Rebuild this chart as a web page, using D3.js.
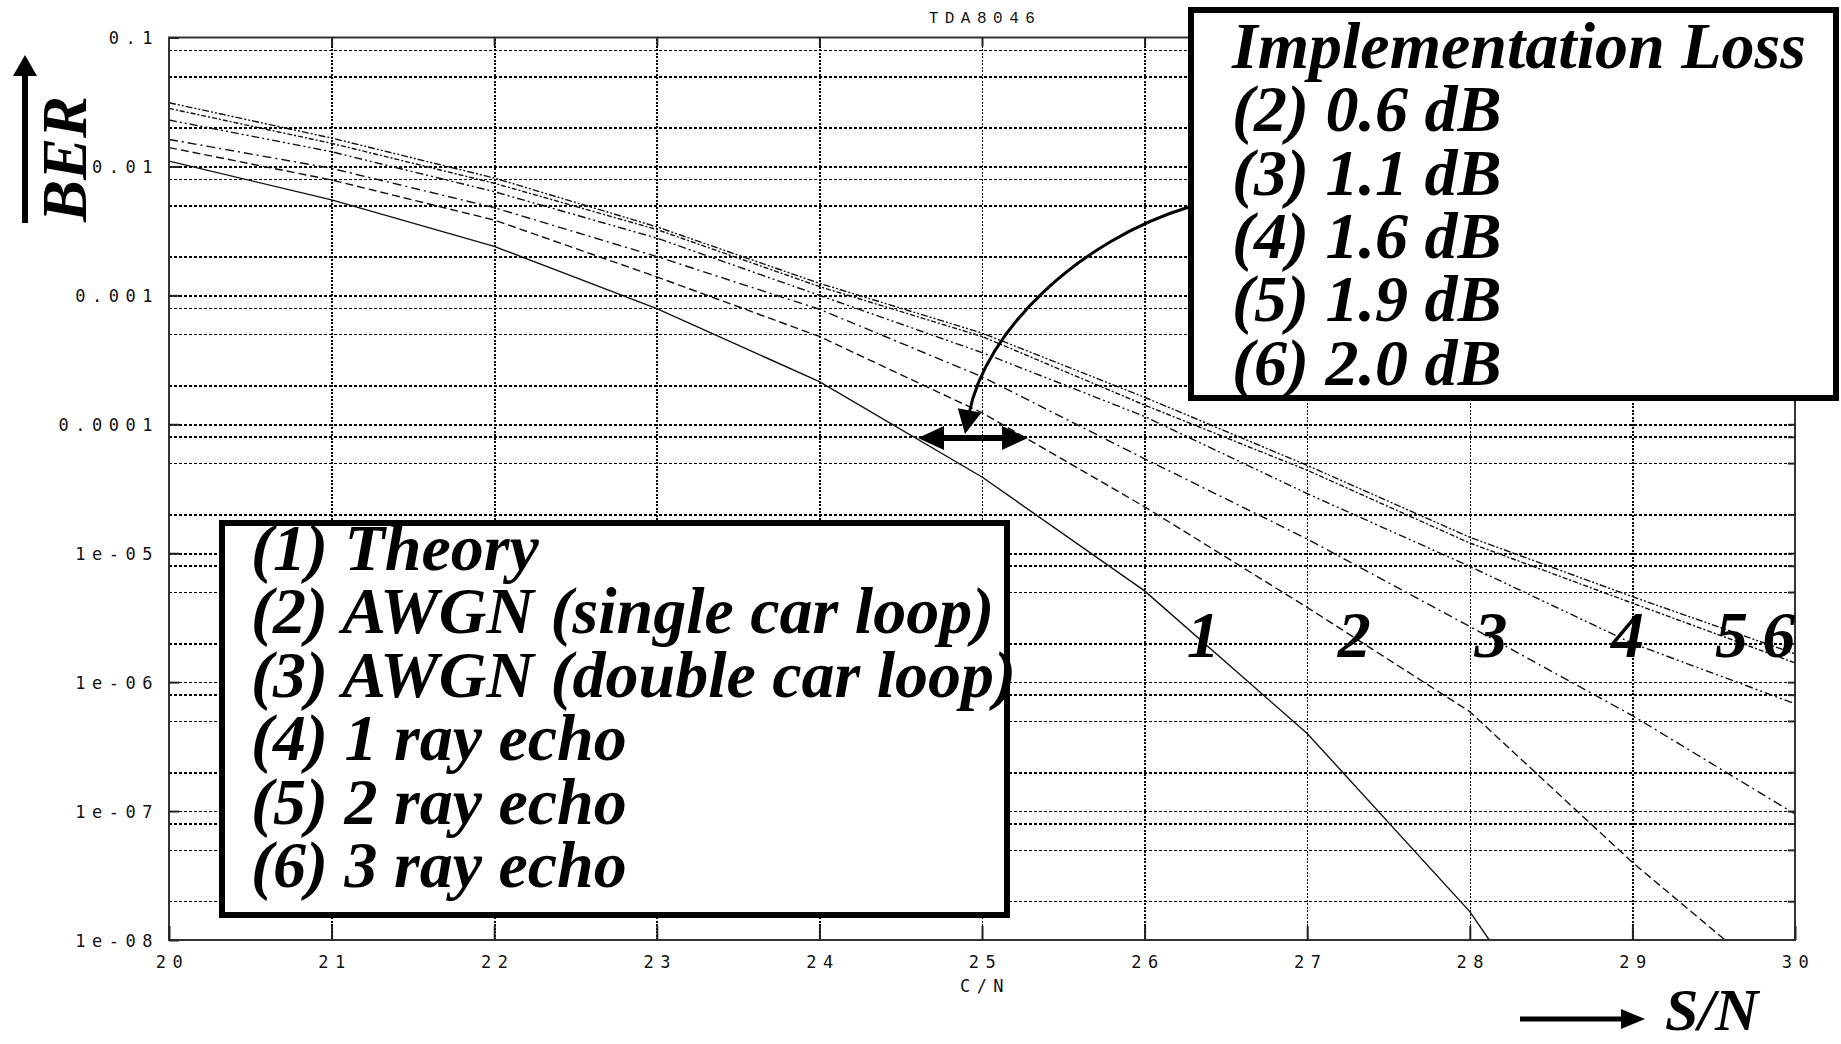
<!DOCTYPE html>
<html>
<head>
<meta charset="utf-8">
<script src="https://cdnjs.cloudflare.com/ajax/libs/d3/7.8.5/d3.min.js"></script>
<style>
html, body { margin: 0; padding: 0; background: #fff; }
svg { display: block; }
.plot-font { font-family: "DejaVu Sans Mono", "Liberation Mono", monospace; font-size: 17px; fill: #111; letter-spacing: 6.5px; }
.big { font-family: "Liberation Serif", "Times New Roman", serif; font-weight: bold; font-style: italic; fill: #000; }
</style>
</head>
<body>
<svg id="chart"></svg>
<script>
/* jshint esversion: 6 */
// axis ticks
var snrTicks = [20, 21, 22, 23, 24, 25, 26, 27, 28, 29, 30];
var berTicks = [0.1, 0.01, 0.001, 0.0001, 1e-5, 1e-6, 1e-7, 1e-8];
var berTickLabels = ['0.1', '0.01', '0.001', '0.0001', '1e-05', '1e-06', '1e-07', '1e-08'];
var gridSteps = [2, 5, 8];

// measured curves (C/N in dB, BER)
var snrTheory = [20, 21, 22, 23, 24, 25, 26, 27, 28, 28.12];
var berTheory = [0.0110, 0.0055, 0.0024, 7.9e-4, 2.14e-4, 3.9e-5, 5.1e-6, 4.0e-7, 1.66e-8, 1e-8];

var snrAwgnSingle = [20, 21, 22, 23, 24, 25, 26, 27, 28, 29, 29.57];
var berAwgnSingle = [0.0140, 0.00785, 0.00384, 0.00139, 4.8e-4, 1.23e-4, 2.29e-5, 3.8e-6, 5.9e-7, 4.0e-8, 1e-8];

var snrFull = [20, 21, 22, 23, 24, 25, 26, 27, 28, 29, 30];
var berAwgnDouble = [0.0162, 0.00966, 0.00479, 0.0020, 7.8e-4, 2.34e-4, 5.4e-5, 1.29e-5, 2.7e-6, 5.5e-7, 9.5e-8];
var berRay1 = [0.0229, 0.0130, 0.00637, 0.00278, 0.0010, 3.6e-4, 1.15e-4, 2.9e-5, 7.9e-6, 2.0e-6, 6.8e-7];
var berRay2 = [0.0282, 0.0151, 0.00741, 0.00324, 0.00117, 4.8e-4, 1.41e-4, 4.4e-5, 1.2e-5, 4.1e-6, 1.41e-6];
var berRay3 = [0.0312, 0.0166, 0.00813, 0.0034, 0.00124, 5.1e-4, 1.62e-4, 4.8e-5, 1.33e-5, 4.6e-6, 1.66e-6];

var legendLines = ['(1) Theory', '(2) AWGN (single car loop)', '(3) AWGN (double car loop)',
                   '(4) 1 ray echo', '(5) 2 ray echo', '(6) 3 ray echo'];
var lossTitle = 'Implementation Loss';
var lossLines = ['(2) 0.6 dB', '(3) 1.1 dB', '(4) 1.6 dB', '(5) 1.9 dB', '(6) 2.0 dB'];
var curveLabels = ['1', '2', '3', '4', '5', '6'];
var curveLabelSnr = [26.36, 27.29, 28.13, 28.97, 29.61, 29.90];
var curveLabelBer = 1.56e-6;

var width = 1841;
var height = 1044;
var margin = {left: 169, top: 37.5, right: 46, bottom: 104};
var plotW = width - margin.left - margin.right;
var plotH = height - margin.top - margin.bottom;
var bigSize = 66;

var svg = d3.select('#chart')
    .attr('width', width)
    .attr('height', height);

var x = d3.scaleLinear().domain([20, 30]).range([margin.left, margin.left + plotW]);
var y = d3.scaleLog().domain([1e-8, 0.1]).range([margin.top + plotH, margin.top]);

// grid values: 2, 5, 8 and 10 in every decade
var gridVals = [];
berTicks.forEach(function(d) {
    gridSteps.forEach(function(m) {
        var v = d / 10 * m;
        if (v > 1e-8 && v < 0.1) gridVals.push(v);
    });
    if (d > 1e-8 && d < 0.1) gridVals.push(d);
});

svg.append('defs').append('clipPath').attr('id', 'plot-clip')
  .append('rect')
    .attr('x', margin.left).attr('y', margin.top)
    .attr('width', plotW).attr('height', plotH);

// horizontal grid
var hgrid = svg.append('g')
    .attr('transform', 'translate(' + margin.left + ',0)')
    .call(d3.axisLeft(y).tickValues(gridVals).tickSize(-plotW).tickFormat(''));
hgrid.select('.domain').remove();
hgrid.selectAll('line')
    .attr('stroke', '#000')
    .attr('stroke-width', 1.6)
    .attr('stroke-dasharray', '3,2')
    .attr('shape-rendering', 'crispEdges');

// vertical grid
var vgrid = svg.append('g')
    .attr('transform', 'translate(0,' + (margin.top + plotH) + ')')
    .call(d3.axisBottom(x).tickValues(snrTicks.slice(1, -1)).tickSize(-plotH).tickFormat(''));
vgrid.select('.domain').remove();
vgrid.selectAll('line')
    .attr('stroke', '#000')
    .attr('stroke-width', 1.6)
    .attr('stroke-dasharray', '2,1.5')
    .attr('shape-rendering', 'crispEdges');

// curves
var series = [
    {snr: snrTheory, ber: berTheory, dash: null},
    {snr: snrAwgnSingle, ber: berAwgnSingle, dash: '8,4'},
    {snr: snrFull, ber: berAwgnDouble, dash: '9,4,2,4'},
    {snr: snrFull, ber: berRay1, dash: '8,3,2,3,2,3'},
    {snr: snrFull, ber: berRay2, dash: '5,2,2,2'},
    {snr: snrFull, ber: berRay3, dash: '7,2,2,2,2,2'}
];

var line = d3.line()
    .x(d => x(d[0]))
    .y(d => y(d[1]));

svg.append('g')
    .attr('clip-path', 'url(#plot-clip)')
  .selectAll('path')
    .data(series)
  .enter()
  .append('path')
    .attr('d', s => line(s.snr.map((v, i) => [v, s.ber[i]])))
    .attr('fill', 'none')
    .attr('stroke', '#111')
    .attr('stroke-width', 1.4)
    .attr('stroke-dasharray', s => s.dash);

// frame
svg.append('rect')
    .attr('x', margin.left).attr('y', margin.top)
    .attr('width', plotW).attr('height', plotH)
    .attr('fill', 'none')
    .attr('stroke', '#333')
    .attr('stroke-width', 2);

// left axis: decade ticks + labels
var yAxis = svg.append('g')
    .attr('transform', 'translate(' + margin.left + ',0)')
    .call(d3.axisLeft(y).tickValues(berTicks)
        .tickFormat((d, i) => berTickLabels[i])
        .tickSize(-10).tickPadding(10));
yAxis.select('.domain').remove();
yAxis.selectAll('line').attr('stroke', '#222').attr('stroke-width', 2);
yAxis.selectAll('text')
    .attr('class', 'plot-font')
    .attr('font-family', null).attr('font-size', null)
    .attr('fill', null)
    .attr('dy', '0.36em');

// right ticks
var rAxis = svg.append('g')
    .attr('transform', 'translate(' + (margin.left + plotW) + ',0)')
    .call(d3.axisRight(y).tickValues(gridVals).tickSize(-7).tickFormat(''));
rAxis.select('.domain').remove();
rAxis.selectAll('line').attr('stroke', '#222').attr('stroke-width', 2);

// top ticks
var tAxis = svg.append('g')
    .attr('transform', 'translate(0,' + margin.top + ')')
    .call(d3.axisTop(x).tickValues(snrTicks.slice(1, -1)).tickSize(-9).tickFormat(''));
tAxis.select('.domain').remove();
tAxis.selectAll('line').attr('stroke', '#222').attr('stroke-width', 2);

// bottom axis
var xAxis = svg.append('g')
    .attr('transform', 'translate(0,' + (margin.top + plotH) + ')')
    .call(d3.axisBottom(x).tickValues(snrTicks).tickFormat(d3.format('d'))
        .tickSize(-14).tickPadding(16));
xAxis.select('.domain').remove();
xAxis.selectAll('line').attr('stroke', '#222').attr('stroke-width', 2);
xAxis.selectAll('text')
    .attr('class', 'plot-font')
    .attr('font-family', null).attr('font-size', null)
    .attr('fill', null)
    .attr('dx', 3);

svg.append('text')
    .attr('class', 'plot-font')
    .attr('x', x(25) + 3)
    .attr('y', margin.top + plotH + 52)
    .attr('text-anchor', 'middle')
    .text('C/N');

svg.append('text')
    .attr('class', 'plot-font')
    .attr('x', x(25) + 3)
    .attr('y', 23)
    .attr('text-anchor', 'middle')
    .style('font-family', '"Liberation Mono", monospace')
    .style('font-size', '16px')
    .style('letter-spacing', '6.5px')
    .text('TDA8046');

// legend box (bottom left)
var leg = svg.append('g');
leg.append('rect')
    .attr('x', 222).attr('y', 523)
    .attr('width', 785).attr('height', 392)
    .attr('fill', '#fff')
    .attr('stroke', '#000')
    .attr('stroke-width', 6);
leg.selectAll('text')
    .data(legendLines)
  .enter()
  .append('text')
    .attr('class', 'big')
    .attr('x', 251)
    .attr('y', (d, i) => 570 + i * 63.4)
    .attr('font-size', bigSize)
    .text(d => d);

// implementation loss box (top right)
var loss = svg.append('g');
loss.append('rect')
    .attr('x', 1191).attr('y', 10)
    .attr('width', 645).attr('height', 388)
    .attr('fill', '#fff')
    .attr('stroke', '#000')
    .attr('stroke-width', 6);
loss.selectAll('text')
    .data([lossTitle].concat(lossLines))
  .enter()
  .append('text')
    .attr('class', 'big')
    .attr('x', 1232)
    .attr('y', (d, i) => 68 + i * 63.3)
    .attr('font-size', bigSize)
    .text(d => d);

// curve numbers
svg.append('g')
  .selectAll('text')
    .data(curveLabels)
  .enter()
  .append('text')
    .attr('class', 'big')
    .attr('x', (d, i) => x(curveLabelSnr[i]))
    .attr('y', y(curveLabelBer))
    .attr('text-anchor', 'middle')
    .attr('font-size', bigSize)
    .text(d => d);

// curved arrow from the loss box
function head(tip, dir, len, half) {
    var n = Math.hypot(dir[0], dir[1]);
    var ux = dir[0] / n, uy = dir[1] / n;
    var bx = tip[0] - ux * len, by = tip[1] - uy * len;
    return [[tip[0], tip[1]], [bx - uy * half, by + ux * half], [bx + uy * half, by - ux * half]];
}
svg.append('path')
    .attr('d', 'M1189,207 C1080,240 985,330 969,414')
    .attr('fill', 'none')
    .attr('stroke', '#000')
    .attr('stroke-width', 3);
svg.append('polygon')
    .attr('points', head([965, 434], [-17, 88], 24, 12).join(' '))
    .attr('fill', '#000');

// double arrow
svg.append('line')
    .attr('x1', 940).attr('x2', 1006)
    .attr('y1', 438).attr('y2', 438)
    .attr('stroke', '#000')
    .attr('stroke-width', 6);
svg.append('polygon')
    .attr('points', head([918, 438], [-1, 0], 26, 12).join(' '))
    .attr('fill', '#000');
svg.append('polygon')
    .attr('points', head([1028, 438], [1, 0], 26, 12).join(' '))
    .attr('fill', '#000');

// BER axis title with arrow
svg.append('line')
    .attr('x1', 25).attr('x2', 25)
    .attr('y1', 223).attr('y2', 70)
    .attr('stroke', '#000')
    .attr('stroke-width', 6);
svg.append('polygon')
    .attr('points', head([25, 55], [0, -1], 21, 12).join(' '))
    .attr('fill', '#000');
svg.append('text')
    .attr('class', 'big')
    .attr('transform', 'translate(86,222) rotate(-90)')
    .attr('font-size', 63)
    .text('BER');

// S/N axis title with arrow
svg.append('line')
    .attr('x1', 1520).attr('x2', 1625)
    .attr('y1', 1019).attr('y2', 1019)
    .attr('stroke', '#000')
    .attr('stroke-width', 5);
svg.append('polygon')
    .attr('points', head([1645, 1019], [1, 0], 24, 10).join(' '))
    .attr('fill', '#000');
svg.append('text')
    .attr('class', 'big')
    .attr('x', 1665)
    .attr('y', 1030)
    .attr('font-size', 60)
    .text('S/N');
</script>
</body>
</html>
